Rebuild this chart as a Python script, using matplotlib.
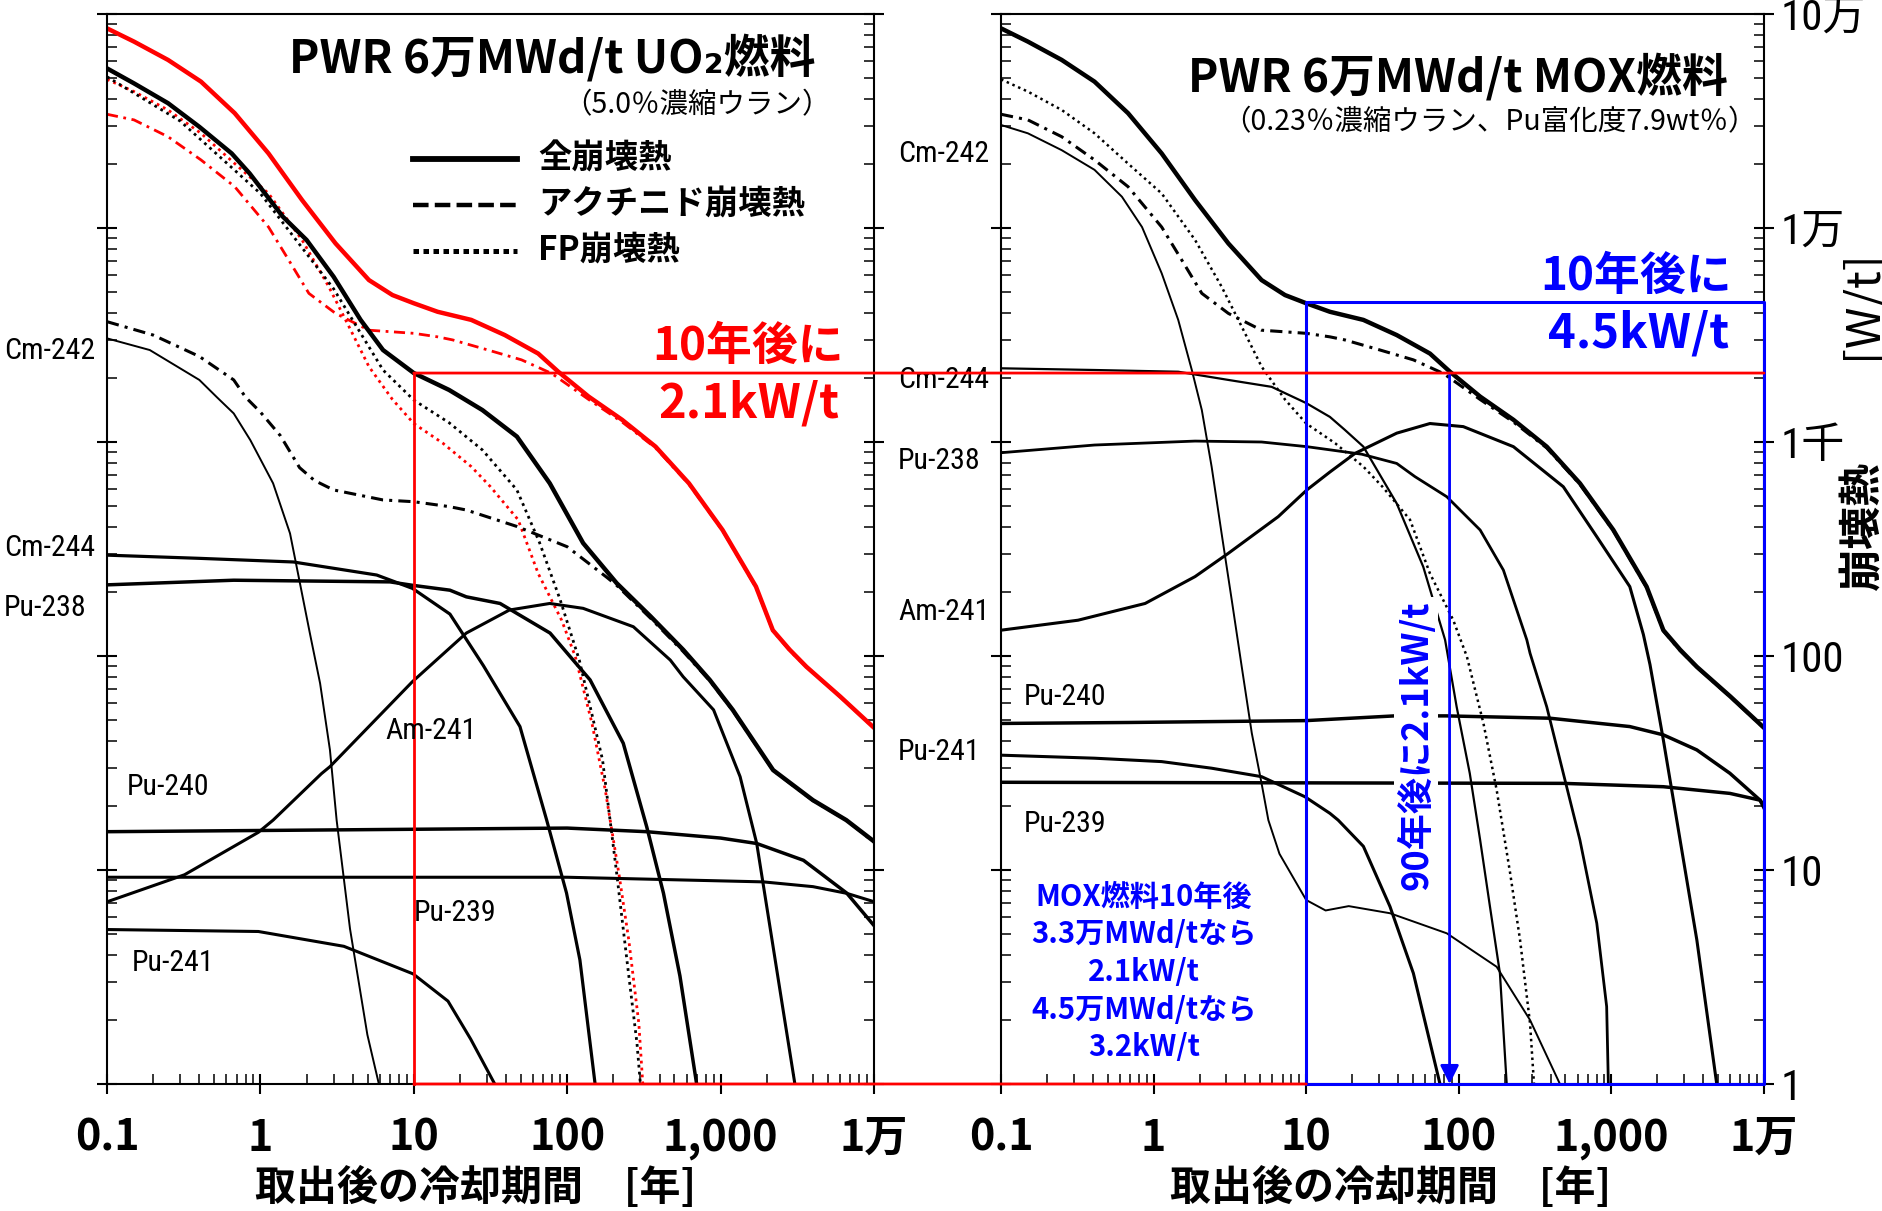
import matplotlib
matplotlib.use('Agg')
import matplotlib.pyplot as plt
from matplotlib.lines import Line2D
from matplotlib.patches import ConnectionPatch
from matplotlib.ticker import LogLocator, NullFormatter

plt.rcParams['font.family'] = ['Noto Sans CJK JP', 'DejaVu Sans']
NARROW = ['Roboto Condensed', 'Noto Sans CJK JP', 'DejaVu Sans']

# ---- UO2 fuel, decay heat [W/t] vs cooling time [years] ----
uo2_total_yr = [0.1, 0.15, 0.25, 0.4, 0.65, 0.85, 1.4, 2, 3, 4.5, 6.3, 10, 17, 28, 47, 77,
                127, 210, 350, 570, 850, 1200, 2200, 4000, 6600, 10000]
uo2_total = [55700, 47400, 38300, 29700, 22300, 18000, 11300, 8790, 5920, 3720, 2690, 2100,
             1750, 1410, 1060, 641, 337, 219, 153, 107, 77.3, 56, 29.3, 21.2, 17.1, 13.6]

uo2_act_yr = [0.1, 0.2, 0.4, 0.67, 0.8, 1, 1.35, 1.8, 2.25, 3, 6.3, 10, 17, 22, 47, 100, 180,
              210, 350, 570, 850, 1200, 2200, 4000, 6600, 10000]
uo2_act = [3650, 3160, 2510, 1950, 1620, 1380, 1070, 759, 661, 597, 536, 526, 499, 481, 403,
           324, 234, 214, 150, 105, 76.6, 55.6, 29.2, 21.1, 17.1, 13.5]

uo2_fp_yr = [0.1, 0.3, 1, 3, 6.3, 10, 17, 28, 47, 66, 90, 120, 170, 210, 245, 285, 300]
uo2_fp = [50900, 31600, 14500, 5200, 2170, 1570, 1230, 918, 597, 339, 183, 95.5, 32.7, 9.7,
          3.8, 1.55, 1.0]

uo2_cm242_yr = [0.1, 0.19, 0.4, 0.52, 0.67, 0.86, 1.21, 1.56, 1.81, 2.1, 2.45, 2.84, 3.14,
                3.84, 4.98, 5.92]
uo2_cm242 = [3050, 2690, 1950, 1620, 1360, 1020, 641, 374, 219, 128, 74.5, 36.4, 17.1, 5.3,
             1.7, 1.0]

uo2_cm244_yr = [0.1, 0.4, 1.64, 3, 5.73, 9.8, 17.2, 28.4, 49.2, 73.5, 99, 121, 152]
uo2_cm244 = [296, 286, 275, 257, 239, 207, 157, 90.2, 46.8, 17.1, 7.8, 3.8, 1.0]

uo2_pu238_yr = [0.1, 0.67, 7, 9.8, 17.2, 22, 36.5, 77.3, 141, 232, 330, 424, 543, 698]
uo2_pu238 = [215, 226, 222, 214, 203, 189, 176, 128, 77.3, 39.1, 15.9, 7.8, 3.2, 1.0]

uo2_am241_yr = [0.1, 0.32, 0.97, 1.21, 2.5, 2.84, 9.8, 22, 42, 77, 127, 270, 470, 570, 900,
                1340, 1720, 2100, 2560, 3050]
uo2_am241 = [7.1, 9.5, 15, 17.1, 28.2, 30.4, 75.9, 128, 164, 176, 167, 137, 95.7, 80, 56,
             27.3, 13.3, 5.4, 2.2, 1.0]

uo2_pu240_yr = [0.1, 10, 100, 330, 1000, 1720, 3470, 6640, 10000]
uo2_pu240 = [15.1, 15.5, 15.7, 15.1, 14.1, 13.3, 11.1, 7.8, 5.5]

uo2_pu239_yr = [0.1, 100, 1900, 4000, 6640, 10000]
uo2_pu239 = [9.25, 9.25, 8.8, 8.36, 7.78, 7.11]

uo2_pu241_yr = [0.1, 0.97, 3.5, 9.9, 16.7, 23.5, 33.7]
uo2_pu241 = [5.27, 5.16, 4.4, 3.27, 2.44, 1.62, 1.0]

# ---- MOX fuel ----
mox_total_yr = [0.1, 0.15, 0.25, 0.41, 0.68, 1.13, 1.87, 3.09, 5.1, 7.26, 10, 14.3, 23.7,
                39.2, 64.7, 87.5, 138, 228, 377, 622, 1030, 1700, 2190, 2820, 3630, 6030, 10000]
mox_total = [85700, 74300, 61000, 48300, 34400, 22300, 13500, 8470, 5710, 4860, 4450, 4060,
             3720, 3160, 2590, 2130, 1630, 1270, 951, 641, 388, 211, 132, 107, 89, 64.6, 46.2]

mox_act_yr = [0.1, 0.15, 0.25, 0.41, 0.68, 1.13, 1.53, 2.07, 3.09, 5.1, 10, 14.3, 17.9, 30.5,
              50.4, 79.3, 138, 228, 377, 622, 1030, 1700, 2190, 2820, 3630, 6030, 10000]
mox_act = [34000, 32000, 26700, 20800, 15600, 10100, 7080, 4950, 3990, 3330, 3220, 3100, 3000,
           2690, 2420, 2090, 1580, 1240, 938, 634, 385, 209, 131, 106, 88.7, 64.3, 46]

mox_fp_yr = [0.1, 0.15, 0.25, 0.41, 0.68, 1.13, 1.87, 2.79, 3.78, 5.1, 7.26, 10, 15.5, 23.7,
             31.6, 47.9, 64.7, 92, 113, 145, 177, 217, 252, 293, 311]
mox_fp = [49500, 43400, 35600, 27700, 20000, 14500, 8790, 5320, 3460, 2250, 1580, 1220, 986,
          767, 618, 433, 243, 147, 99.3, 48.5, 23.7, 9.66, 4.71, 1.92, 1.0]

mox_cm242_yr = [0.1, 0.15, 0.25, 0.41, 0.62, 0.84, 1.13, 1.45, 1.78, 2.07, 2.4, 2.79, 3.25,
                3.78, 4.4, 5.1, 5.65, 6.68, 10, 13.4, 19, 35.4, 83.4, 177, 293, 460]
mox_cm242 = [30300, 27700, 23100, 18700, 14000, 10100, 6140, 3720, 2170, 1410, 767, 374, 183,
             89.1, 43.6, 25.4, 17.1, 11.9, 7.24, 6.47, 6.78, 6.28, 5.06, 3.53, 1.99, 1.0]

mox_cm244_yr = [0.1, 0.41, 1.45, 3.09, 5.94, 10, 14.3, 17.9, 23.7, 39.2, 58.5, 81.3, 96.8,
                118, 138, 160, 186, 206]
mox_cm244 = [2210, 2170, 2130, 1950, 1810, 1520, 1310, 1140, 951, 516, 261, 119, 57.9, 28.3,
             13.8, 6.75, 3.29, 1.0]

mox_pu238_yr = [0.1, 0.41, 1.87, 5.1, 10.1, 23.1, 39.2, 51.6, 83.4, 138, 196, 279, 293, 377,
                484, 622, 802, 931, 955]
mox_pu238 = [891, 968, 1010, 1000, 951, 877, 794, 689, 555, 388, 252, 119, 103, 57.9, 28.3,
             13.8, 5.64, 2.3, 1.0]

mox_am241_yr = [0.1, 0.32, 0.88, 1.87, 3.09, 6.56, 10.1, 14.3, 20.9, 39.2, 64.7, 107, 228,
                484, 802, 1320, 1620, 1790, 2190, 2820, 3630, 4900]
mox_am241 = [132, 147, 176, 235, 302, 448, 597, 724, 885, 1100, 1220, 1180, 951, 618, 361,
             211, 126, 91.2, 40.5, 13.8, 4.71, 1.0]

mox_pu240_yr = [0.1, 0.68, 10, 38, 83, 396, 1320, 2190, 3630, 5980, 9420, 10000]
mox_pu240 = [48.4, 48.9, 49.9, 52.5, 52.5, 51.2, 46.8, 42.8, 36.4, 28.3, 21.2, 19.5]

mox_pu239_yr = [0.1, 484, 2190, 5980, 9420, 10000]
mox_pu239 = [25.7, 25.4, 24.5, 22.8, 21.2, 20]

mox_pu241_yr = [0.1, 0.41, 1.13, 2.4, 5.1, 9.8, 14.3, 16.2, 23.7, 35.4, 50.4, 75.3]
mox_pu241 = [34.4, 33.3, 32.1, 29.9, 27.3, 22, 18.4, 17.1, 12.9, 6.75, 3.29, 1.0]

# markers used by the annotations
mark_year = 10          # 10 years after discharge
uo2_heat_10y = 2100     # 2.1 kW/t
mox_heat_10y = 4500     # 4.5 kW/t
mox_year_21kw = 87      # MOX reaches 2.1 kW/t

x_ticks = [0.1, 1, 10, 100, 1000, 10000]
x_tick_labels = ['0.1', '1', '10', '100', '1,000', '1万']
y_ticks = [1, 10, 100, 1000, 10000, 100000]
y_tick_labels = ['1', '10', '100', '1千', '1万', '10万']

W, H = 1883, 1211
fig = plt.figure(figsize=(W / 100, H / 100), dpi=100)


def px(x, y):
    # pixel position (from top-left) -> figure fraction
    return x / W, 1 - y / H


ax1 = fig.add_axes([107 / W, 1 - 1084 / H, 767 / W, 1070 / H])
ax2 = fig.add_axes([1001 / W, 1 - 1084 / H, 763 / W, 1070 / H])

for ax in (ax1, ax2):
    ax.set_xscale('log')
    ax.set_yscale('log')
    ax.set_xlim(0.1, 1e4)
    ax.set_ylim(1, 1e5)
    ax.set_xticks(x_ticks, x_tick_labels, fontsize=31, fontweight='bold')
    ax.xaxis.set_minor_locator(LogLocator(base=10, subs=range(2, 10), numticks=30))
    ax.xaxis.set_minor_formatter(NullFormatter())
    ax.yaxis.set_minor_locator(LogLocator(base=10, subs=range(2, 10), numticks=30))
    ax.yaxis.set_minor_formatter(NullFormatter())
    ax.tick_params(which='major', direction='inout', length=14, width=1.5,
                   left=True, right=True, top=False, bottom=True)
    ax.tick_params(axis='x', which='major', pad=16)
    ax.tick_params(which='minor', direction='in', length=7, width=1.1,
                   left=True, right=True, top=False, bottom=True)
    for s in ax.spines.values():
        s.set_linewidth(1.5)
    ax.set_xlabel('取出後の冷却期間　[年]', fontsize=29.5, fontweight='bold')

ax1.set_yticks(y_ticks, [])
ax2.set_yticks(y_ticks, y_tick_labels, fontsize=31, family=NARROW)
ax2.tick_params(axis='y', which='major', labelleft=False, labelright=True, pad=5)

ax1.xaxis.set_label_coords(0.48, -0.097)
ax2.xaxis.set_label_coords(0.51, -0.097)
ax1.xaxis.label.set_va('center')
ax2.xaxis.label.set_va('center')

DASHDOT = (0, (4, 2, 1, 2))
DOT = (0, (1, 1.5))

# left panel: red copies of the MOX totals, then the UO2 curves
ax1.plot(mox_total_yr, mox_total, color='red', lw=3.2)
ax1.plot(mox_act_yr, mox_act, color='red', lw=2, ls=DASHDOT)
ax1.plot(mox_fp_yr, mox_fp, color='red', lw=2, ls=DOT)

ax1.plot(uo2_total_yr, uo2_total, color='black', lw=3.2)
ax1.plot(uo2_act_yr, uo2_act, color='black', lw=2.2, ls=DASHDOT)
ax1.plot(uo2_fp_yr, uo2_fp, color='black', lw=2, ls=DOT)
ax1.plot(uo2_cm242_yr, uo2_cm242, color='black', lw=1.4)
ax1.plot(uo2_cm244_yr, uo2_cm244, color='black', lw=2.3)
ax1.plot(uo2_pu238_yr, uo2_pu238, color='black', lw=2.5)
ax1.plot(uo2_am241_yr, uo2_am241, color='black', lw=2.2)
ax1.plot(uo2_pu240_yr, uo2_pu240, color='black', lw=2.5)
ax1.plot(uo2_pu239_yr, uo2_pu239, color='black', lw=2.2)
ax1.plot(uo2_pu241_yr, uo2_pu241, color='black', lw=2.2)

# right panel: MOX
ax2.plot(mox_total_yr, mox_total, color='black', lw=3.2)
ax2.plot(mox_act_yr, mox_act, color='black', lw=2.2, ls=DASHDOT)
ax2.plot(mox_fp_yr, mox_fp, color='black', lw=1.8, ls=DOT)
ax2.plot(mox_cm242_yr, mox_cm242, color='black', lw=1.4)
ax2.plot(mox_cm244_yr, mox_cm244, color='black', lw=1.6)
ax2.plot(mox_pu238_yr, mox_pu238, color='black', lw=2.0)
ax2.plot(mox_am241_yr, mox_am241, color='black', lw=2.2)
ax2.plot(mox_pu240_yr, mox_pu240, color='black', lw=2.5)
ax2.plot(mox_pu239_yr, mox_pu239, color='black', lw=2.5)
ax2.plot(mox_pu241_yr, mox_pu241, color='black', lw=2.2)

# red guide: UO2 2.1 kW/t at 10 years
ax1.plot([mark_year, mark_year], [1, uo2_heat_10y], color='red', lw=2, zorder=5, clip_on=False)
for a, b in [((mark_year, uo2_heat_10y), (1e4, uo2_heat_10y)), ((mark_year, 1), (mark_year, 1))]:
    con = ConnectionPatch(xyA=a, coordsA=ax1.transData, xyB=b, coordsB=ax2.transData,
                          color='red', lw=2, zorder=5)
    fig.add_artist(con)

# blue guide: MOX 4.5 kW/t at 10 years
ax2.plot([mark_year, mark_year, 1e4, 1e4, mark_year], [1, mox_heat_10y, mox_heat_10y, 1, 1],
         color='blue', lw=2.2, zorder=6, clip_on=False)
ax2.annotate('', xy=(mox_year_21kw, 1), xytext=(mox_year_21kw, uo2_heat_10y),
             arrowprops=dict(arrowstyle='-|>', color='blue', lw=2, mutation_scale=28,
                             shrinkA=0, shrinkB=0), zorder=6)

# titles
fig.text(*px(552, 59), 'PWR 6万MWd/t UO₂燃料', ha='center', va='center', fontsize=33, fontweight='bold')
fig.text(*px(697, 105), '（5.0％濃縮ウラン）', ha='center', va='center', fontsize=20.5)
fig.text(*px(1458, 78), 'PWR 6万MWd/t MOX燃料', ha='center', va='center', fontsize=33, fontweight='bold')
fig.text(*px(1489, 122), '（0.23％濃縮ウラン、Pu富化度7.9wt％）', ha='center', va='center', fontsize=20.5)

# legend (drawn by hand, like the original)
legend_rows = [('全崩壊熱', dict(lw=4.2, ls='-')),
               ('アクチニド崩壊熱', dict(lw=3.2, ls=(0, (3.5, 1.4)))),
               ('FP崩壊熱', dict(lw=3.6, ls=(0, (1.1, 0.9))))]
for i, (label, style) in enumerate(legend_rows):
    y = 159 + i * 46
    x0, y0 = px(413, y)
    x1, _ = px(517, y)
    fig.add_artist(Line2D([x0, x1], [y0, y0], color='black', **style))
    fig.text(*px(538, y), label, ha='left', va='center', fontsize=24, fontweight='bold')

# 10-year notes
fig.text(*px(748, 347), '10年後に', color='red', ha='center', va='center', fontsize=33, fontweight='bold')
fig.text(*px(749, 403), '2.1kW/t', color='red', ha='center', va='center', fontsize=34, fontweight='bold')
fig.text(*px(1636, 277), '10年後に', color='blue', ha='center', va='center', fontsize=33, fontweight='bold')
fig.text(*px(1639, 333), '4.5kW/t', color='blue', ha='center', va='center', fontsize=34, fontweight='bold')

fig.text(*px(1416, 745), '90年後に2.1kW/t', color='blue', rotation=90, ha='center', va='center',
         fontsize=26, fontweight='bold', zorder=7,
         bbox=dict(facecolor='white', edgecolor='none', pad=2))
fig.text(*px(1144, 972), 'MOX燃料10年後\n3.3万MWd/tなら\n2.1kW/t\n4.5万MWd/tなら\n3.2kW/t',
         color='blue', ha='center', va='center', fontsize=21, fontweight='bold', linespacing=1.32)

# right axis title
fig.text(*px(1862, 304), '[W/t]', rotation=90, ha='center', va='center', fontsize=34)
fig.text(*px(1862, 526), '崩壊熱', rotation=90, ha='center', va='center', fontsize=31, fontweight='bold')

# nuclide labels
nuclide_labels = [('Cm-242', 4, 351), ('Cm-244', 4, 548), ('Pu-238', 4, 608),
                  ('Am-241', 385, 731), ('Pu-240', 127, 787), ('Pu-239', 414, 913),
                  ('Pu-241', 132, 963),
                  ('Cm-242', 898, 154), ('Cm-244', 898, 380), ('Pu-238', 898, 461),
                  ('Am-241', 898, 612), ('Pu-241', 898, 752), ('Pu-240', 1024, 697),
                  ('Pu-239', 1024, 824)]
for name, x, y in nuclide_labels:
    fig.text(*px(x, y), name, ha='left', va='center', fontsize=21.5, family=NARROW)

fig.savefig('out.png', dpi=100)
